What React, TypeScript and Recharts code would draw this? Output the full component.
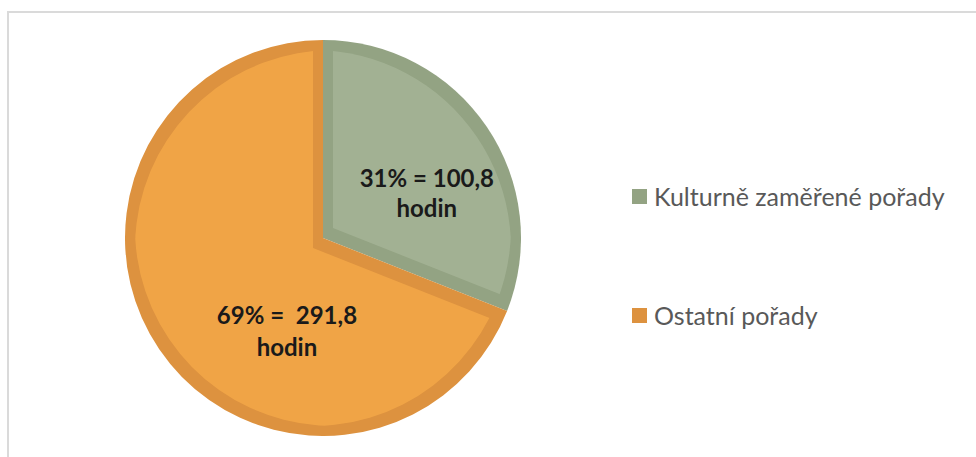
import React from "react";
import { PieChart, Pie, Cell, Legend } from "recharts";

const categories = ["Kulturně zaměřené pořady", "Ostatní pořady"];
const shares = [31, 69];
const hours = ["100,8", "291,8"];
const separators = [" = ", " =  "];
const unitLabel = "hodin";

const borderColors = ["#93A383", "#DD923F"];
const fillColors = ["#A2B193", "#F0A446"];

const pieData = categories.map((name, i) => ({
  name,
  value: shares[i],
  line1: `${shares[i]}%${separators[i]}${hours[i]}`,
}));

// label block placement (angle in degrees, distance from pie centre in px)
const LABEL_PLACEMENT = [
  { angle: 22, radius: 112, dy1: -9, dy2: 30 },
  { angle: 249.3, radius: 102, dy1: -9, dy2: 32 },
];

const FONT = "Lato, 'Open Sans', sans-serif";

const renderLabel = (props: any) => {
  const { cx, cy, index } = props;
  const p = LABEL_PLACEMENT[index];
  const rad = (p.angle * Math.PI) / 180;
  const x = cx + p.radius * Math.cos(rad);
  const y = cy - p.radius * Math.sin(rad);
  return (
    <text
      x={x}
      y={y}
      textAnchor="middle"
      fontFamily={FONT}
      fontWeight={700}
      fontSize={24}
      fill="#1a1a1a"
      style={{ whiteSpace: "pre" }}
    >
      <tspan x={x} dy={p.dy1}>
        {pieData[index].line1}
      </tspan>
      <tspan x={x} dy={p.dy2}>
        {unitLabel}
      </tspan>
    </text>
  );
};

const renderLegend = () => (
  <div style={{ fontFamily: FONT, fontSize: 25, color: "#595959" }}>
    {categories.map((c, i) => (
      <div
        key={c}
        style={{
          display: "flex",
          alignItems: "center",
          height: 30,
          marginBottom: i === 0 ? 89 : 0,
          whiteSpace: "nowrap",
        }}
      >
        <span
          style={{
            display: "inline-block",
            width: 15,
            height: 15,
            background: borderColors[i],
            marginRight: 7,
          }}
        />
        <span>{c}</span>
      </div>
    ))}
  </div>
);

export default function App() {
  return (
    <div style={{ position: "absolute", left: 0, top: 0, width: 976, height: 457, overflow: "hidden", background: "#fff" }}>
      <svg width={0} height={0} style={{ position: "absolute" }}>
        <defs>
          {fillColors.map((fc, i) => (
            <filter
              key={i}
              id={`inner-border-${i}`}
              x="-5%"
              y="-5%"
              width="110%"
              height="110%"
              colorInterpolationFilters="sRGB"
            >
              <feMorphology in="SourceAlpha" operator="erode" radius={10} result="eroded" />
              <feFlood floodColor={fc} result="flood" />
              <feComposite in="flood" in2="eroded" operator="in" result="inner" />
              <feMerge>
                <feMergeNode in="SourceGraphic" />
                <feMergeNode in="inner" />
              </feMerge>
            </filter>
          ))}
        </defs>
      </svg>
      <div
        style={{
          position: "absolute",
          left: 7,
          top: 11,
          width: 1100,
          height: 600,
          borderLeft: "2px solid #dadada",
          borderTop: "2px solid #dadada",
          boxSizing: "border-box",
        }}
      />
      <div style={{ position: "absolute", left: 0, top: 0 }}>
        <PieChart width={976} height={457} margin={{ top: 0, right: 0, bottom: 0, left: 0 }}>
          <Pie
            data={pieData}
            dataKey="value"
            nameKey="name"
            cx={323}
            cy={238}
            outerRadius={198}
            startAngle={90}
            endAngle={-270}
            stroke="none"
            isAnimationActive={false}
            label={renderLabel}
            labelLine={false}
          >
            {pieData.map((d, i) => (
              <Cell key={d.name} fill={borderColors[i]} filter={`url(#inner-border-${i})`} />
            ))}
          </Pie>
          <Legend
            layout="vertical"
            align="right"
            verticalAlign="middle"
            content={renderLegend}
            wrapperStyle={{ left: 632, top: 181, right: "auto", bottom: "auto", width: 340 }}
          />
        </PieChart>
      </div>
    </div>
  );
}
